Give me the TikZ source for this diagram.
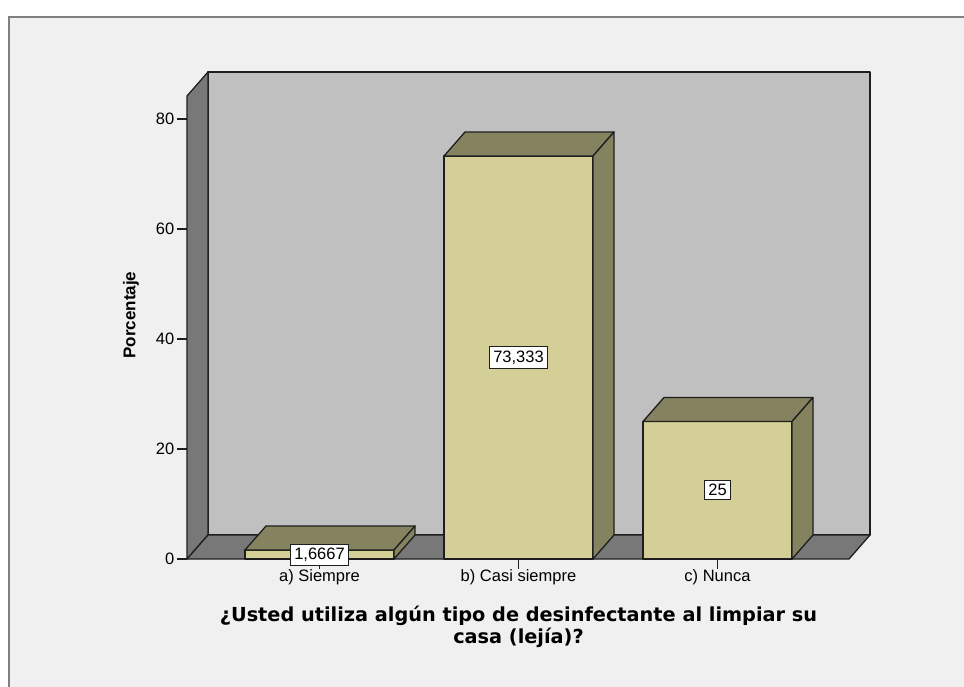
\documentclass[tikz,border=0pt]{standalone}
\usepackage{fontspec}
\setmainfont{Liberation Sans}
\newfontfamily\titlefont{DejaVu Sans}
\usetikzlibrary{positioning}

\definecolor{framebg}{HTML}{F0F0F0}
\definecolor{framegray}{HTML}{808080}
\definecolor{wallgray}{HTML}{C0C0C0}
\definecolor{floorgray}{HTML}{787878}
\definecolor{barfront}{HTML}{D3CF97}
\definecolor{bardark}{HTML}{85835F}
\definecolor{edgeblack}{HTML}{1E1E1E}

\tikzset{
  edge/.style={draw=edgeblack, line width=1.3pt, line join=round},
  axtick/.style={draw=edgeblack, line width=1.3pt},
  ticklabel/.style={font=\fontsize{16.5}{18}\selectfont, inner sep=1pt},
  valbox/.style={draw=edgeblack, fill=white, line width=1pt, inner xsep=3.5pt, inner ysep=4pt, font=\fontsize{16.5}{18}\selectfont},
  axtitle/.style={font=\bfseries\fontsize{17}{18}\selectfont, inner sep=0pt},
  xtitle/.style={font=\titlefont\bfseries\fontsize{19.3}{21.5}\selectfont, align=center, inner sep=0pt}
}

\begin{document}
\begin{tikzpicture}[x=1pt, y=-1pt]
            \useasboundingbox (0,0) rectangle (964,686);
            \fill[white] (0,0) rectangle (964,686);
            \filldraw[fill=framebg, draw=framegray, line width=1.5pt] (9,17) rectangle (975,700);
            % walls and floor
            \filldraw[edge, fill=wallgray] (208,72) rectangle (870,535);
            \filldraw[edge, fill=floorgray] (187,559) -- (187,96) -- (208,72) -- (208,535) -- cycle;
            \filldraw[edge, fill=floorgray] (187,559) -- (849,559) -- (870,535) -- (208,535) -- cycle;
            % y axis
            \draw[axtick] (177,559) -- (187,559) node[ticklabel, left=1pt of {(177,559)}] (t0) {0};
            \draw[axtick] (177,449) -- (187,449) node[ticklabel, left=1pt of {(177,449)}] (t20) {20};
            \draw[axtick] (177,339) -- (187,339) node[ticklabel, left=1pt of {(177,339)}] (t40) {40};
            \draw[axtick] (177,229) -- (187,229) node[ticklabel, left=1pt of {(177,229)}] (t60) {60};
            \draw[axtick] (177,119) -- (187,119) node[ticklabel, left=1pt of {(177,119)}] (t80) {80};
            % x ticks
            \draw[axtick] (319.5,559) -- (319.5,569);
            \draw[axtick] (518.5,559) -- (518.5,569);
            \draw[axtick] (717.5,559) -- (717.5,569);
            % bar a
            \filldraw[edge, fill=barfront] (245,559) rectangle (394,550);
            \filldraw[edge, fill=bardark] (245,550) -- (266,526) -- (415,526) -- (394,550) -- cycle;
            \filldraw[edge, fill=bardark] (394,559) -- (394,550) -- (415,526) -- (415,535) -- cycle;
            % bar b
            \filldraw[edge, fill=barfront] (444,559) rectangle (593,156);
            \filldraw[edge, fill=bardark] (444,156) -- (465,132) -- (614,132) -- (593,156) -- cycle;
            \filldraw[edge, fill=bardark] (593,559) -- (593,156) -- (614,132) -- (614,535) -- cycle;
            % bar c
            \filldraw[edge, fill=barfront] (643,559) rectangle (792,421.5);
            \filldraw[edge, fill=bardark] (643,421.5) -- (664,397.5) -- (813,397.5) -- (792,421.5) -- cycle;
            \filldraw[edge, fill=bardark] (792,559) -- (792,421.5) -- (813,397.5) -- (813,535) -- cycle;
            % values
            \node[valbox] (va) at (319.5,555) {1,6667};
            \node[valbox] (vb) at (518.5,357.5) {73,333};
            \node[valbox] (vc) at (717.5,490) {25};
            % categories
            \node[ticklabel, anchor=north] (ca) at (319.5,568) {a) Siempre};
            \node[ticklabel, anchor=north] (cb) at (518.5,568) {b) Casi siempre};
            \node[ticklabel, anchor=north] (cc) at (717.5,568) {c) Nunca};
            % titles
            \node[axtitle, rotate=90] (ylab) at (131,315) {Porcentaje};
            \node[xtitle] (xlab) at (518.5,627) {¿Usted utiliza algún tipo de desinfectante al limpiar su\\casa (lejía)?};
\end{tikzpicture}
\end{document}
